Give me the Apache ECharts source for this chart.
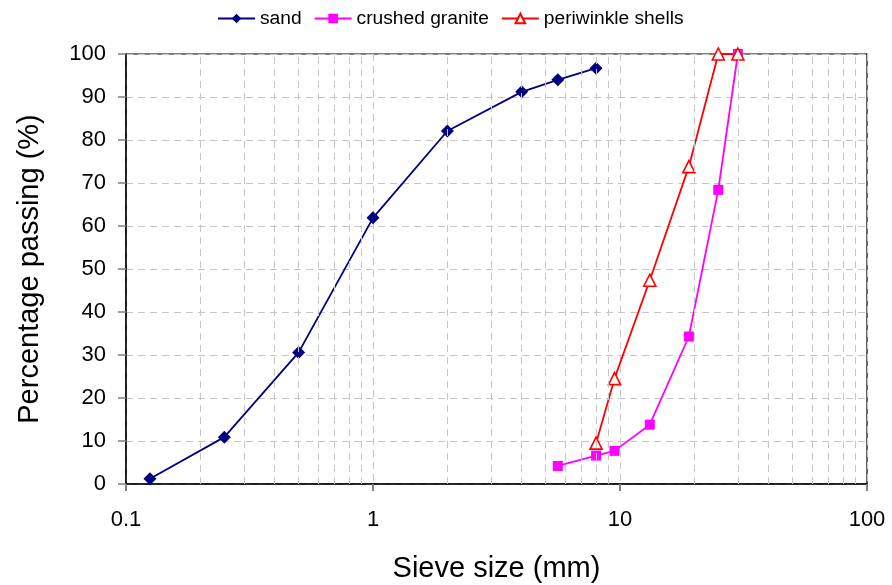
<!DOCTYPE html>
<html>
<head>
<meta charset="utf-8">
<script src="https://cdn.jsdelivr.net/npm/echarts@6/dist/echarts.min.js"></script>
<style>html,body{margin:0;padding:0;background:#fff}#c{width:892px;height:585px}</style>
</head>
<body>
<div id="c"></div>
<script>
// Data (sieve size in mm, percentage passing)
var sandX = [0.125, 0.25, 0.5, 1, 2, 4, 5.6, 8];
var sandY = [1.2, 10.9, 30.6, 61.9, 82.1, 91.2, 94.0, 96.7];
var graniteX = [5.6, 8, 9.5, 13.2, 19, 25, 30];
var graniteY = [4.2, 6.6, 7.7, 13.8, 34.3, 68.4, 100];
var shellsX = [8, 9.5, 13.2, 19, 25, 30];
var shellsY = [9.5, 24.5, 47.4, 73.8, 100, 100];
var seriesNames = ['sand', 'crushed granite', 'periwinkle shells'];
var xTickLabels = ['0.1', '1', '10', '100'];

function pairs(xs, ys) { return xs.map(function (x, i) { return [x, ys[i]]; }); }

// minor vertical grid positions (2..9 in each decade)
var minorGrid = [];
[0.1, 1, 10].forEach(function (d) {
  for (var k = 2; k <= 9; k++) minorGrid.push({ xAxis: +(d * k).toPrecision(3) });
});

var gridColor = '#c6c6c6';
var font = 'Liberation Sans, Arial, sans-serif';
var chart = echarts.init(document.getElementById('c'), null, { renderer: 'canvas' });
chart.setOption({
  animation: false,
  backgroundColor: '#fff',
  textStyle: { fontFamily: font },
  legend: {
    data: seriesNames,
    top: 4,
    left: 212,
    itemWidth: 37,
    itemHeight: 12,
    itemGap: 12,
    textStyle: { fontSize: 19.2, color: '#000', fontFamily: font }
  },
  grid: {
    left: 126, right: 25, top: 54, bottom: 101,
    outerBoundsMode: 'none', containLabel: false,
    show: true, borderColor: '#000', borderWidth: 1.2, backgroundColor: 'transparent'
  },
  xAxis: {
    type: 'log', logBase: 10, min: 0.1, max: 100,
    name: 'Sieve size (mm)', nameLocation: 'middle', nameGap: 70,
    nameTextStyle: { fontSize: 29, color: '#000', fontFamily: font },
    axisLine: { lineStyle: { color: '#000', width: 1.5 } },
    axisTick: { show: true, length: 7, lineStyle: { color: '#808080', width: 2 } },
    axisLabel: {
      fontSize: 22, color: '#000', margin: 25,
      formatter: function (v) {
        var i = Math.round(Math.log10(v)) + 1;
        return xTickLabels[i] !== undefined ? xTickLabels[i] : '';
      }
    },
    splitLine: { show: true, lineStyle: { color: gridColor, type: [7, 5], width: 1 } }
  },
  yAxis: {
    type: 'value', min: 0, max: 100, interval: 10,
    name: 'Percentage passing (%)', nameLocation: 'middle', nameGap: 82,
    nameTextStyle: { fontSize: 29, color: '#000', fontFamily: font },
    axisLine: { show: true, lineStyle: { color: '#000', width: 1.5 } },
    axisTick: { show: true, length: 8, lineStyle: { color: '#808080', width: 1.5 } },
    axisLabel: { fontSize: 22, color: '#000', margin: 20 },
    splitLine: { show: true, lineStyle: { color: gridColor, type: [7, 5], width: 1 } }
  },
  series: [
    {
      name: '_grid', type: 'line', data: [], z: 1, silent: true,
      markLine: {
        silent: true, symbol: 'none', label: { show: false },
        lineStyle: { color: gridColor, type: [7, 5], width: 1 },
        emphasis: { disabled: true },
        data: minorGrid
      }
    },
    {
      name: seriesNames[0], type: 'line', data: pairs(sandX, sandY),
      symbol: 'diamond', symbolSize: 13,
      itemStyle: { color: '#000080' },
      lineStyle: { color: '#000080', width: 1.8 }
    },
    {
      name: seriesNames[1], type: 'line', data: pairs(graniteX, graniteY),
      symbol: 'rect', symbolSize: 10,
      itemStyle: { color: '#ff00ff' },
      lineStyle: { color: '#ff00ff', width: 1.8 }
    },
    {
      name: seriesNames[2], type: 'line', data: pairs(shellsX, shellsY),
      symbol: 'triangle', symbolSize: 12,
      itemStyle: { color: '#ffffff', borderColor: '#ff0000', borderWidth: 1.6 },
      lineStyle: { color: '#ff0000', width: 1.8 }
    }
  ]
});
</script>
</body>
</html>
